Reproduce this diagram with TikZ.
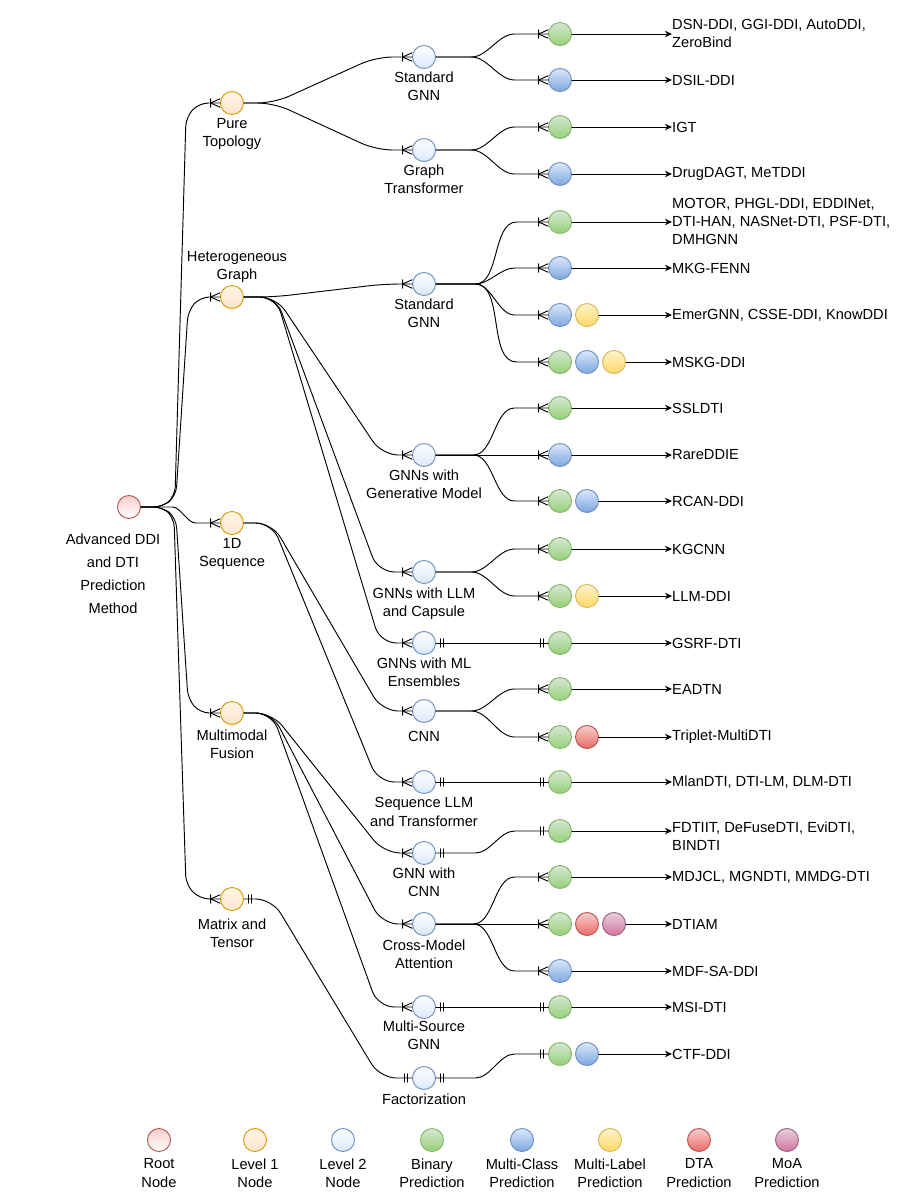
\documentclass[tikz,border=0pt]{standalone}
\usepackage{fontspec}
\setmainfont{Liberation Sans}
\usetikzlibrary{arrows.meta,decorations.markings}

\definecolor{rootline}{HTML}{B85450} \definecolor{rootfill}{HTML}{F8CECC}
\definecolor{oneline}{HTML}{D79B00}  \definecolor{onefill}{HTML}{FFE6CC}
\definecolor{twoline}{HTML}{6C8EBF}  \definecolor{twofill}{HTML}{DAE8FC}
\definecolor{binline}{HTML}{82B366}  \definecolor{bintop}{HTML}{D5E8D4} \definecolor{binbot}{HTML}{97D077}
\definecolor{mcbot}{HTML}{7EA6E0}
\definecolor{mlline}{HTML}{D6B656}   \definecolor{mltop}{HTML}{FFF2CC}  \definecolor{mlbot}{HTML}{FFD966}
\definecolor{dtabot}{HTML}{EA6B66}
\definecolor{moaline}{HTML}{996185}  \definecolor{moatop}{HTML}{E6D0DE} \definecolor{moabot}{HTML}{D5739D}

\tikzset{
	dot/.style={circle, draw, minimum size=0.69cm, inner sep=0pt, line width=0.8pt},
	rootdot/.style={dot, draw=rootline, top color=rootfill, bottom color=white},
	onedot/.style={dot, draw=oneline, top color=onefill!45!white, bottom color=onefill},
	twodot/.style={dot, draw=twoline, top color=white, bottom color=twofill},
	bindot/.style={dot, draw=binline, top color=bintop, bottom color=binbot},
	mcdot/.style={dot, draw=twoline, top color=twofill, bottom color=mcbot},
	mldot/.style={dot, draw=mlline, top color=mltop, bottom color=mlbot},
	dtadot/.style={dot, draw=rootline, top color=rootfill, bottom color=dtabot},
	moadot/.style={dot, draw=moaline, top color=moatop, bottom color=moabot},
	lbl/.style={align=center, inner sep=0pt},
	ref/.style={anchor=west, align=left, inner sep=0pt},
	link/.style={line width=0.8pt, rounded corners=8pt},
	toref/.style={-{Stealth[length=6pt, width=5.5pt]}},
	% crow's foot (one or many) at the end of a link
	many/.style={postaction={decorate, decoration={markings,
				mark=at position -8pt with {\draw (0,-3.6pt)--(0,3.6pt) (0,0)--(8pt,3.6pt) (0,0)--(8pt,-3.6pt);}}}},
	% two bars (exactly one) at the start / end of a link
	onestart/.style={postaction={decorate, decoration={markings,
				mark=at position 3.5pt with {\draw (0,-3.6pt)--(0,3.6pt);},
				mark=at position 6.5pt with {\draw (0,-3.6pt)--(0,3.6pt);}}}},
	oneend/.style={postaction={decorate, decoration={markings,
				mark=at position -6.5pt with {\draw (0,-3.6pt)--(0,3.6pt);},
				mark=at position -3.5pt with {\draw (0,-3.6pt)--(0,3.6pt);}}}}
}

\begin{document}
\begin{tikzpicture}[x=0.03cm, y=-0.03cm, font=\fontsize{12.5}{15.7}\selectfont, line join=round, line cap=round]
	\useasboundingbox (0,0) rectangle (916,1204);
	\def\xa{232} \def\xb{424} \def\xc{560} \def\xd{587} \def\xe{614} \def\xt{672} % columns
	
	% root and level 1
	\node[rootdot] (root) at (129,507) {};
	\node[lbl, font=\fontsize{12.5}{19.6}\selectfont] (rootlbl) at (113,573.5) {Advanced DDI\\and DTI\\Prediction\\Method};
	\node[onedot] (topo) at (\xa,103) {};
	\node[lbl] (topolbl) at (\xa,134) {Pure\\Topology};
	\node[onedot] (hetero) at (\xa,297) {};
	\node[lbl] (heterolbl) at (237,267) {Heterogeneous\\Graph};
	\node[onedot] (seq) at (\xa,523) {};
	\node[lbl] (seqlbl) at (\xa,554) {1D\\Sequence};
	\node[onedot] (fusion) at (\xa,713) {};
	\node[lbl] (fusionlbl) at (\xa,744) {Multimodal\\Fusion};
	\node[onedot] (matrix) at (\xa,899) {};
	\node[lbl] (matrixlbl) at (\xa,933) {Matrix and\\Tensor};
	
	% level 2
	\node[twodot] (stdA) at (\xb,57) {};
	\node[lbl] (stdAlbl) at (\xb,86) {Standard\\GNN};
	\node[twodot] (trans) at (\xb,150) {};
	\node[lbl] (translbl) at (\xb,179) {Graph\\Transformer};
	\node[twodot] (stdB) at (\xb,284) {};
	\node[lbl] (stdBlbl) at (\xb,313) {Standard\\GNN};
	\node[twodot] (gen) at (\xb,455) {};
	\node[lbl] (genlbl) at (\xb,484) {GNNs with\\Generative Model};
	\node[twodot] (llm) at (\xb,572) {};
	\node[lbl] (llmlbl) at (\xb,603.5) {GNNs with LLM\\and Capsule};
	\node[twodot] (ens) at (\xb,643) {};
	\node[lbl] (enslbl) at (\xb,672) {GNNs with ML\\Ensembles};
	\node[twodot] (cnn) at (\xb,711) {};
	\node[lbl] (cnnlbl) at (\xb,736) {CNN};
	\node[twodot] (seqllm) at (\xb,782) {};
	\node[lbl] (seqllmlbl) at (\xb,812) {Sequence LLM\\and Transformer};
	\node[twodot] (gcnn) at (\xb,853) {};
	\node[lbl] (gcnnlbl) at (\xb,882) {GNN with\\CNN};
	\node[twodot] (cross) at (\xb,924) {};
	\node[lbl] (crosslbl) at (\xb,954) {Cross-Model\\Attention};
	\node[twodot] (msrc) at (\xb,1007) {};
	\node[lbl] (msrclbl) at (\xb,1035) {Multi-Source\\GNN};
	\node[twodot] (fact) at (\xb,1078) {};
	\node[lbl] (factlbl) at (\xb,1099) {Factorization};
	
	% predictions (one row per method group)
	\node[bindot] (r1a) at (\xc,34) {};
	\node[mcdot] (r2a) at (\xc,80) {};
	\node[bindot] (r3a) at (\xc,127) {};
	\node[mcdot] (r4a) at (\xc,174) {};
	\node[bindot] (r5a) at (\xc,222) {};
	\node[mcdot] (r6a) at (\xc,268) {};
	\node[mcdot] (r7a) at (\xc,315) {}; \node[mldot] (r7b) at (\xd,315) {};
	\node[bindot] (r8a) at (\xc,362) {}; \node[mcdot] (r8b) at (\xd,362) {}; \node[mldot] (r8c) at (\xe,362) {};
	\node[bindot] (r9a) at (\xc,408) {};
	\node[mcdot] (r10a) at (\xc,455) {};
	\node[bindot] (r11a) at (\xc,501) {}; \node[mcdot] (r11b) at (\xd,501) {};
	\node[bindot] (r12a) at (\xc,549) {};
	\node[bindot] (r13a) at (\xc,596) {}; \node[mldot] (r13b) at (\xd,596) {};
	\node[bindot] (r14a) at (\xc,643) {};
	\node[bindot] (r15a) at (\xc,689) {};
	\node[bindot] (r16a) at (\xc,737) {}; \node[dtadot] (r16b) at (\xd,737) {};
	\node[bindot] (r17a) at (\xc,782) {};
	\node[bindot] (r18a) at (\xc,831) {};
	\node[bindot] (r19a) at (\xc,877) {};
	\node[bindot] (r20a) at (\xc,924) {}; \node[dtadot] (r20b) at (\xd,924) {}; \node[moadot] (r20c) at (\xe,924) {};
	\node[mcdot] (r21a) at (\xc,971) {};
	\node[bindot] (r22a) at (\xc,1007) {};
	\node[bindot] (r23a) at (\xc,1054) {}; \node[mcdot] (r23b) at (\xd,1054) {};
	
	% methods
	\node[ref] (t1) at (\xt,33.5) {DSN-DDI, GGI-DDI, AutoDDI,\\ZeroBind};
	\node[ref] (t2) at (\xt,80) {DSIL-DDI};
	\node[ref] (t3) at (\xt,127) {IGT};
	\node[ref] (t4) at (\xt,174) {DrugDAGT, MeTDDI};
	\node[ref] (t5) at (\xt,221.5) {MOTOR, PHGL-DDI, EDDINet,\\DTI-HAN, NASNet-DTI, PSF-DTI,\\DMHGNN};
	\node[ref] (t6) at (\xt,268) {MKG-FENN};
	\node[ref] (t7) at (\xt,315) {EmerGNN, CSSE-DDI, KnowDDI};
	\node[ref] (t8) at (\xt,362) {MSKG-DDI};
	\node[ref] (t9) at (\xt,408) {SSLDTI};
	\node[ref] (t10) at (\xt,455) {RareDDIE};
	\node[ref] (t11) at (\xt,501) {RCAN-DDI};
	\node[ref] (t12) at (\xt,549) {KGCNN};
	\node[ref] (t13) at (\xt,596) {LLM-DDI};
	\node[ref] (t14) at (\xt,643) {GSRF-DTI};
	\node[ref] (t15) at (\xt,689) {EADTN};
	\node[ref] (t16) at (\xt,737) {Triplet-MultiDTI};
	\node[ref] (t17) at (\xt,782) {MlanDTI, DTI-LM, DLM-DTI};
	\node[ref] (t18) at (\xt,836) {FDTIIT, DeFuseDTI, EviDTI,\\BINDTI};
	\node[ref] (t19) at (\xt,877) {MDJCL, MGNDTI, MMDG-DTI};
	\node[ref] (t20) at (\xt,924) {DTIAM};
	\node[ref] (t21) at (\xt,971) {MDF-SA-DDI};
	\node[ref] (t22) at (\xt,1007) {MSI-DTI};
	\node[ref] (t23) at (\xt,1054) {CTF-DDI};
	
	% root -> level 1
	\draw[link, many] (root.east) -- (163,507) -- (175,496) -- (186,117) -- (199,103) -- (topo.west);
	\draw[link, many] (root.east) -- (163,507) -- (176,496) -- (188,311) -- (200,297) -- (hetero.west);
	\draw[link, many] (root.east) -- (163,507) to[out=0, in=180] (205,523) -- (seq.west);
	\draw[link, many] (root.east) -- (163,507) -- (176,518) -- (188,699) -- (200,713) -- (fusion.west);
	\draw[link, many] (root.east) -- (163,507) -- (174,518) -- (186,885) -- (200,899) -- (matrix.west);
	
	% level 1 -> level 2
	\draw[link, rounded corners=14pt, many] (topo.east) -- (274,103) -- (376,57) -- (stdA.west);
	\draw[link, rounded corners=14pt, many] (topo.east) -- (274,103) -- (376,150) -- (trans.west);
	\draw[link, rounded corners=14pt, many] (hetero.east) -- (274,297) -- (384,284) -- (stdB.west);
	\draw[link, rounded corners=14pt, many] (hetero.east) -- (276,297) -- (382,455) -- (gen.west);
	\draw[link, rounded corners=14pt, many] (hetero.east) -- (276,297) -- (378,572) -- (llm.west);
	\draw[link, rounded corners=14pt, many] (hetero.east) -- (276,297) -- (380,643) -- (ens.west);
	\draw[link, rounded corners=14pt, many] (seq.east) -- (272,523) -- (382,711) -- (cnn.west);
	\draw[link, rounded corners=14pt, many] (seq.east) -- (272,523) -- (378,782) -- (seqllm.west);
	\draw[link, rounded corners=14pt, many] (fusion.east) -- (272,713) -- (384,853) -- (gcnn.west);
	\draw[link, rounded corners=14pt, many] (fusion.east) -- (272,713) -- (382,924) -- (cross.west);
	\draw[link, rounded corners=14pt, many] (fusion.east) -- (272,713) -- (378,1007) -- (msrc.west);
	\draw[link, rounded corners=14pt, onestart, oneend] (matrix.east) -- (272,899) -- (380,1078) -- (fact.west);
	
	% level 2 -> predictions
	\draw[link, many] (stdA.east) -- (462,57) to[out=0, in=180] (524,34) -- (r1a.west);
	\draw[link, many] (stdA.east) -- (462,57) to[out=0, in=180] (524,80) -- (r2a.west);
	\draw[link, many] (trans.east) -- (462,150) to[out=0, in=180] (524,127) -- (r3a.west);
	\draw[link, many] (trans.east) -- (462,150) to[out=0, in=180] (524,174) -- (r4a.west);
	\draw[link, many] (stdB.east) -- (466,284) to[out=0, in=180] (526,222) -- (r5a.west);
	\draw[link, many] (stdB.east) -- (466,284) to[out=0, in=180] (524,268) -- (r6a.west);
	\draw[link, many] (stdB.east) -- (466,284) to[out=0, in=180] (524,315) -- (r7a.west);
	\draw[link, many] (stdB.east) -- (466,284) to[out=0, in=180] (526,362) -- (r8a.west);
	\draw[link, many] (gen.east) -- (464,455) to[out=0, in=180] (524,408) -- (r9a.west);
	\draw[link, many] (gen.east) -- (r10a.west);
	\draw[link, many] (gen.east) -- (464,455) to[out=0, in=180] (524,501) -- (r11a.west);
	\draw[link, many] (llm.east) -- (462,572) to[out=0, in=180] (524,549) -- (r12a.west);
	\draw[link, many] (llm.east) -- (462,572) to[out=0, in=180] (524,596) -- (r13a.west);
	\draw[link, onestart, oneend] (ens.east) -- (r14a.west);
	\draw[link, many] (cnn.east) -- (462,711) to[out=0, in=180] (524,689) -- (r15a.west);
	\draw[link, many] (cnn.east) -- (462,711) to[out=0, in=180] (524,737) -- (r16a.west);
	\draw[link, onestart, oneend] (seqllm.east) -- (r17a.west);
	\draw[link, onestart, oneend] (gcnn.east) -- (466,853) to[out=0, in=180] (524,831) -- (r18a.west);
	\draw[link, many] (cross.east) -- (464,924) to[out=0, in=180] (524,877) -- (r19a.west);
	\draw[link, many] (cross.east) -- (r20a.west);
	\draw[link, many] (cross.east) -- (464,924) to[out=0, in=180] (524,971) -- (r21a.west);
	\draw[link, onestart, oneend] (msrc.east) -- (r22a.west);
	\draw[link, onestart, oneend] (fact.east) -- (466,1078) to[out=0, in=180] (524,1054) -- (r23a.west);
	
	% predictions -> methods
	\draw[link, toref] (r1a.east) -- (r1a.east -| t1.west);
	\draw[link, toref] (r2a.east) -- (t2.west);
	\draw[link, toref] (r3a.east) -- (t3.west);
	\draw[link, toref] (r4a.east) -- (t4.west);
	\draw[link, toref] (r5a.east) -- (r5a.east -| t5.west);
	\draw[link, toref] (r6a.east) -- (t6.west);
	\draw[link, toref] (r7b.east) -- (t7.west);
	\draw[link, toref] (r8c.east) -- (t8.west);
	\draw[link, toref] (r9a.east) -- (t9.west);
	\draw[link, toref] (r10a.east) -- (t10.west);
	\draw[link, toref] (r11b.east) -- (t11.west);
	\draw[link, toref] (r12a.east) -- (t12.west);
	\draw[link, toref] (r13b.east) -- (t13.west);
	\draw[link, toref] (r14a.east) -- (t14.west);
	\draw[link, toref] (r15a.east) -- (t15.west);
	\draw[link, toref] (r16b.east) -- (t16.west);
	\draw[link, toref] (r17a.east) -- (t17.west);
	\draw[link, toref] (r18a.east) -- (r18a.east -| t18.west);
	\draw[link, toref] (r19a.east) -- (t19.west);
	\draw[link, toref] (r20c.east) -- (t20.west);
	\draw[link, toref] (r21a.east) -- (t21.west);
	\draw[link, toref] (r22a.east) -- (t22.west);
	\draw[link, toref] (r23b.east) -- (t23.west);
	
	% legend
	\node[rootdot] (lgroot) at (159,1140) {};
	\node[lbl] (lgrootlbl) at (159,1173) {Root\\Node};
	\node[onedot] (lgone) at (255,1140) {};
	\node[lbl] (lgonelbl) at (255,1173) {Level 1\\Node};
	\node[twodot] (lgtwo) at (343,1140) {};
	\node[lbl] (lgtwolbl) at (343,1173) {Level 2\\Node};
	\node[bindot] (lgbin) at (432,1140) {};
	\node[lbl] (lgbinlbl) at (432,1173) {Binary\\Prediction};
	\node[mcdot] (lgmc) at (522,1140) {};
	\node[lbl] (lgmclbl) at (522,1173) {Multi-Class\\Prediction};
	\node[mldot] (lgml) at (610,1140) {};
	\node[lbl] (lgmllbl) at (610,1173) {Multi-Label\\Prediction};
	\node[dtadot] (lgdta) at (699,1140) {};
	\node[lbl] (lgdtalbl) at (699,1173) {DTA\\Prediction};
	\node[moadot] (lgmoa) at (787,1140) {};
	\node[lbl] (lgmoalbl) at (787,1173) {MoA\\Prediction};
\end{tikzpicture}
\end{document}
